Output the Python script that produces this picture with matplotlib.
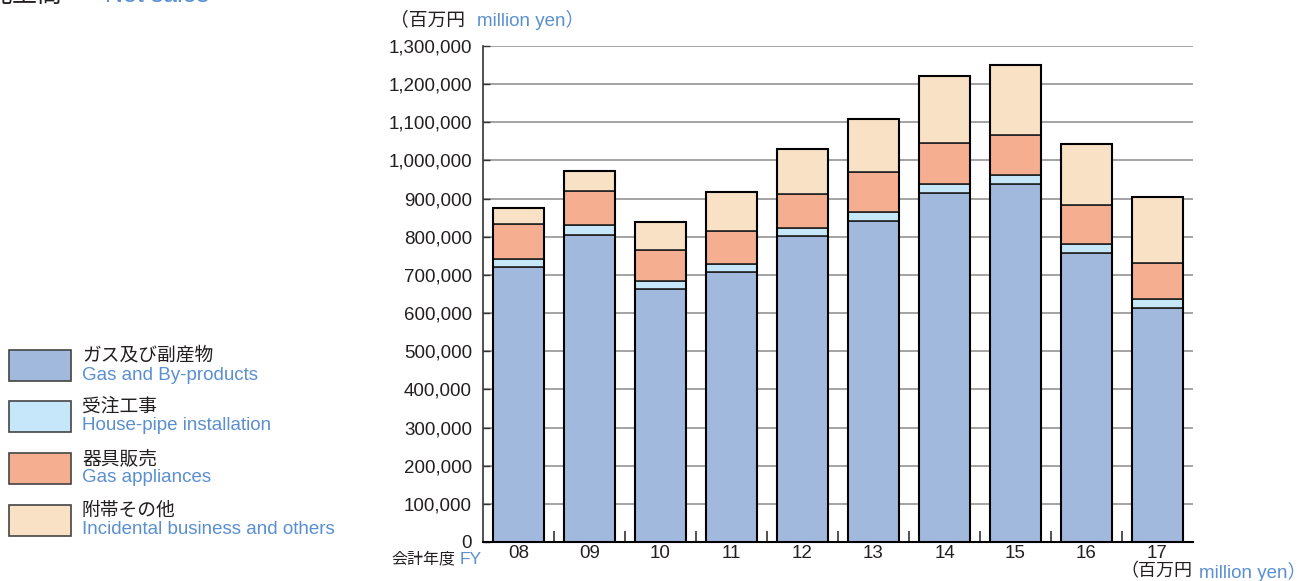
import numpy as np
import matplotlib
matplotlib.use('Agg')
import matplotlib.pyplot as plt
from matplotlib.patches import Rectangle

plt.rcParams['font.family'] = ['Liberation Sans', 'Noto Sans CJK JP']

# Net sales by segment (million yen).
years = ['08', '09', '10', '11', '12', '13', '14', '15', '16', '17']
gas = [722000, 805000, 663000, 708000, 802000, 841000, 915000, 938000, 757500, 612500]
housepipe = [20000, 27000, 21000, 20000, 20000, 23000, 24000, 24500, 24500, 23500]
appliances = [91000, 89000, 81000, 88000, 89000, 105000, 107500, 105000, 100500, 96000]
incidental = [42000, 51000, 75000, 101000, 120000, 140000, 175500, 183500, 159500, 173000]

seg_jp = ['ガス及び副産物', '受注工事', '器具販売', '附帯その他']
seg_en = ['Gas and By-products', 'House-pipe installation', 'Gas appliances',
          'Incidental business and others']
colors = ['#a2b9de', '#c6e6f9', '#f5ae90', '#f8e1c4']
blue_txt = '#5a8fd2'
dark = '#231f20'

W, H = 1308, 581
fig = plt.figure(figsize=(W / 100, H / 100), dpi=100)

# Axes placed to match the reference pixel box.
left, right, bottom, top = 483, 1193, 542, 46
ax = fig.add_axes([left / W, 1 - bottom / H, (right - left) / W, (bottom - top) / H])

x = np.arange(len(years))
series = [gas, housepipe, appliances, incidental]
base = np.zeros(len(years))
for vals, c in zip(series, colors):
    ax.bar(x, vals, bottom=base, width=0.72, color=c, edgecolor='#222222',
           linewidth=1.2, zorder=3)
    base += np.array(vals)
# Outer outline of each stacked bar.
ax.bar(x, base, width=0.72, fill=False, edgecolor='black', linewidth=1.5, zorder=4)

ax.set_xlim(-0.5, len(years) - 0.5)
ax.set_ylim(0, 1300000)
ax.set_yticks(np.arange(0, 1300001, 100000))
ax.set_yticklabels([f'{v:,}' for v in range(0, 1300001, 100000)], fontsize=13.5, color=dark)
ax.yaxis.grid(True, color='#8a8a8a', linewidth=1.1, zorder=0)
ax.set_axisbelow(True)

# Category tick labels, ticks drawn at category boundaries.
ax.set_xticks(x)
ax.set_xticklabels(years, fontsize=13.5, color=dark)
ax.tick_params(axis='x', length=0, pad=2)
ax.set_xticks(np.arange(0.5, len(years) - 1, 1), minor=True)
ax.tick_params(axis='x', which='minor', direction='in', length=8, width=1.2, color='#333333')
ax.tick_params(axis='y', direction='in', length=5, width=1.0, color='#333333', pad=8)

for s in ['top', 'right']:
    ax.spines[s].set_visible(False)
ax.spines['left'].set_color('#333333')
ax.spines['left'].set_linewidth(1.2)
ax.spines['bottom'].set_color('black')
ax.spines['bottom'].set_linewidth(1.5)


def px(xp, yp):
    return xp / W, 1 - yp / H


# Unit labels.
fig.text(*px(390, 20), '（百万円', fontsize=13.5, color=dark, va='center', ha='left')
fig.text(*px(477, 20), 'million yen）', fontsize=13.5, color=blue_txt, va='center', ha='left')
fig.text(*px(1120, 572), '（百万円', fontsize=13, color=dark, va='center', ha='left')
fig.text(*px(1199, 572), 'million yen）', fontsize=13.5, color=blue_txt, va='center', ha='left')
fig.text(*px(391, 559), '会計年度', fontsize=11.5, color=dark, va='center', ha='left')
fig.text(*px(460, 559), 'FY', fontsize=12.5, color=blue_txt, va='center', ha='left')

# Title, cut off at the very top as in the reference.
fig.text(*px(-12, 2), '売上高', fontsize=18, color=dark, va='baseline', ha='left')
fig.text(*px(105, 2), 'Net sales', fontsize=18, color=blue_txt, va='baseline', ha='left')

# Legend on the left.
leg_tops = [350, 401, 453, 505]
for yt, c, jp, en in zip(leg_tops, colors, seg_jp, seg_en):
    fig.patches.append(Rectangle(px(9, yt + 31), 62 / W, 31 / H, transform=fig.transFigure,
                                 facecolor=c, edgecolor='#444444', linewidth=1.2))
    fig.text(*px(82, yt + 6), jp, fontsize=13.5, color=dark, va='center', ha='left')
    fig.text(*px(82, yt + 25), en, fontsize=13.5, color=blue_txt, va='center', ha='left')

fig.savefig('out.png', dpi=100)
